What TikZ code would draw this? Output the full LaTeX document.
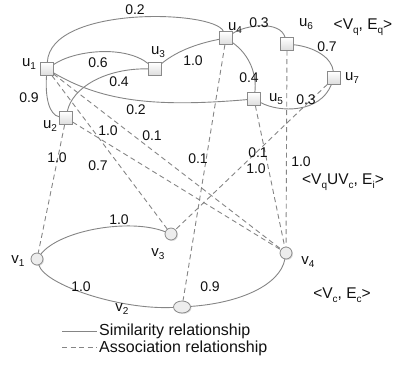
\documentclass[tikz,border=0pt]{standalone}
\usepackage{fontspec}
\setmainfont{Liberation Sans}
\usetikzlibrary{shapes.geometric,shadows}
\definecolor{edgec}{HTML}{858585}
\definecolor{nodeb}{HTML}{8A8A8A}
\definecolor{nodef}{HTML}{EDEDED}
\definecolor{txt}{HTML}{111111}
\newcommand{\sbs}[1]{\raisebox{-0.45ex}{\fontsize{10}{10}\selectfont #1}}
\pgfdeclarelayer{bg}
\pgfsetlayers{bg,main}
\begin{document}
\begin{tikzpicture}[x=1pt,y=-1pt,
  shd/.style={drop shadow={opacity=0.25, shadow xshift=1pt, shadow yshift=-1pt}},
  sq/.style={shd, draw=nodeb, top color=white, bottom color=nodef!85!gray, minimum size=12.5pt, inner sep=0pt, line width=0.8pt},
  cir/.style={shd, circle, draw=nodeb, fill=nodef, minimum size=12pt, inner sep=0pt, line width=0.8pt},
  ell/.style={shd, ellipse, draw=nodeb, fill=nodef, minimum width=17pt, minimum height=12pt, inner sep=0pt, line width=0.8pt},
  sim/.style={draw=edgec, line width=0.9pt},
  asc/.style={draw=edgec, line width=0.9pt, dash pattern=on 5pt off 3.5pt},
  num/.style={font=\fontsize{14}{14}\selectfont, text=txt, inner sep=0pt},
  lab/.style={font=\fontsize{15}{15}\selectfont, text=txt, inner sep=0pt},
  hdr/.style={font=\fontsize{15.5}{15.5}\selectfont, text=txt, inner sep=0pt},
  leg/.style={font=\fontsize{16}{16}\selectfont, text=txt, inner sep=0pt, anchor=west},
]
\useasboundingbox (0,0) rectangle (395,365);

% query nodes
\node[sq] (u1) at (47,69) {};
\node[sq] (u2) at (66,118) {};
\node[sq] (u3) at (155,69) {};
\node[sq] (u4) at (226,38) {};
\node[sq] (u5) at (254,99) {};
\node[sq] (u6) at (287,44) {};
\node[sq] (u7) at (334,78) {};
% candidate nodes
\node[cir] (v1) at (37,259) {};
\node[ell] (v2) at (182,307) {};
\node[cir] (v3) at (171,234) {};
\node[cir] (v4) at (286,253) {};

\begin{pgfonlayer}{bg}
% similarity edges
\draw[sim] (u1) .. controls (50,5) and (215,10) .. (u4);
\draw[sim] (u1) .. controls (75,50) and (125,45) .. (u3);
\draw[sim] (u1) .. controls (100,100) and (150,108) .. (u5);
\draw[sim] (u1) .. controls (45,97) and (49,115) .. (u2);
\draw[sim] (u2) .. controls (72,88) and (105,68) .. (u3);
\draw[sim] (u3) .. controls (178,50) and (200,43) .. (u4);
\draw[sim] (u4) .. controls (245,25) and (280,20) .. (u6);
\draw[sim] (u4) .. controls (250,55) and (257,75) .. (u5);
\draw[sim] (u6) .. controls (315,47) and (332,58) .. (u7);
\draw[sim] (u5) .. controls (280,113) and (320,113) .. (u7);
\draw[sim] (v1) .. controls (60,230) and (130,218) .. (v3);
\draw[sim] (v1) .. controls (45,285) and (120,310) .. (v2);
\draw[sim] (v2) .. controls (240,303) and (280,285) .. (v4);
% association edges
\draw[asc] (u2) -- (v1);
\draw[asc] (u1) -- (v3);
\draw[asc] (u1) -- (v4);
\draw[asc] (u2) -- (v4);
\draw[asc] (u4) -- (v2);
\draw[asc] (u5) -- (v4);
\draw[asc] (u6) -- (v4);
\draw[asc] (u7) -- (v3);
\end{pgfonlayer}

% node labels
\node[lab] (lu1) at (29,64) {u\sbs{1}};
\node[lab] (lu2) at (50,126) {u\sbs{2}};
\node[lab] (lu3) at (158,52) {u\sbs{3}};
\node[lab] (lu4) at (235,28) {u\sbs{4}};
\node[lab] (lu5) at (276,99) {u\sbs{5}};
\node[lab] (lu6) at (306,24) {u\sbs{6}};
\node[lab] (lu7) at (352,78) {u\sbs{7}};
\node[lab] (lv1) at (18,261) {v\sbs{1}};
\node[lab] (lv2) at (122,309) {v\sbs{2}};
\node[lab] (lv3) at (158,254) {v\sbs{3}};
\node[lab] (lv4) at (308,262) {v\sbs{4}};

% edge weights
\node[num] (w1) at (135,10) {0.2};
\node[num] (w2) at (98,63) {0.6};
\node[num] (w3) at (119,82) {0.4};
\node[num] (w4) at (29,98) {0.9};
\node[num] (w5) at (136,110) {0.2};
\node[num] (w6) at (108,131) {1.0};
\node[num] (w7) at (152,136) {0.1};
\node[num] (w8) at (193,61) {1.0};
\node[num] (w9) at (259,23) {0.3};
\node[num] (w10) at (327,47) {0.7};
\node[num] (w11) at (249,78) {0.4};
\node[num] (w12) at (306,100) {0.3};
\node[num] (w13) at (57,158) {1.0};
\node[num] (w14) at (98,166) {0.7};
\node[num] (w15) at (198,159) {0.1};
\node[num] (w16) at (258,153) {0.1};
\node[num] (w17) at (256,169) {1.0};
\node[num] (w18) at (301,162) {1.0};
\node[num] (w19) at (119,220) {1.0};
\node[num] (w20) at (81,287) {1.0};
\node[num] (w21) at (210,287) {0.9};

% graph headers
\node[hdr] (h1) at (363,27) {<V\sbs{q}, E\sbs{q}>};
\node[hdr] (h2) at (343,182) {<V\sbs{q}UV\sbs{c}, E\sbs{i}>};
\node[hdr] (h3) at (342,295) {<V\sbs{c}, E\sbs{c}>};

% legend
\coordinate (ls1) at (62,331);
\coordinate (ls2) at (97,331);
\coordinate (la1) at (62,347);
\coordinate (la2) at (97,347);
\draw[sim] (ls1) -- (ls2);
\draw[asc] (la1) -- (la2);
\node[leg] (lt1) at (99,331) {Similarity relationship};
\node[leg] (lt2) at (99,348) {Association relationship};
\end{tikzpicture}
\end{document}
